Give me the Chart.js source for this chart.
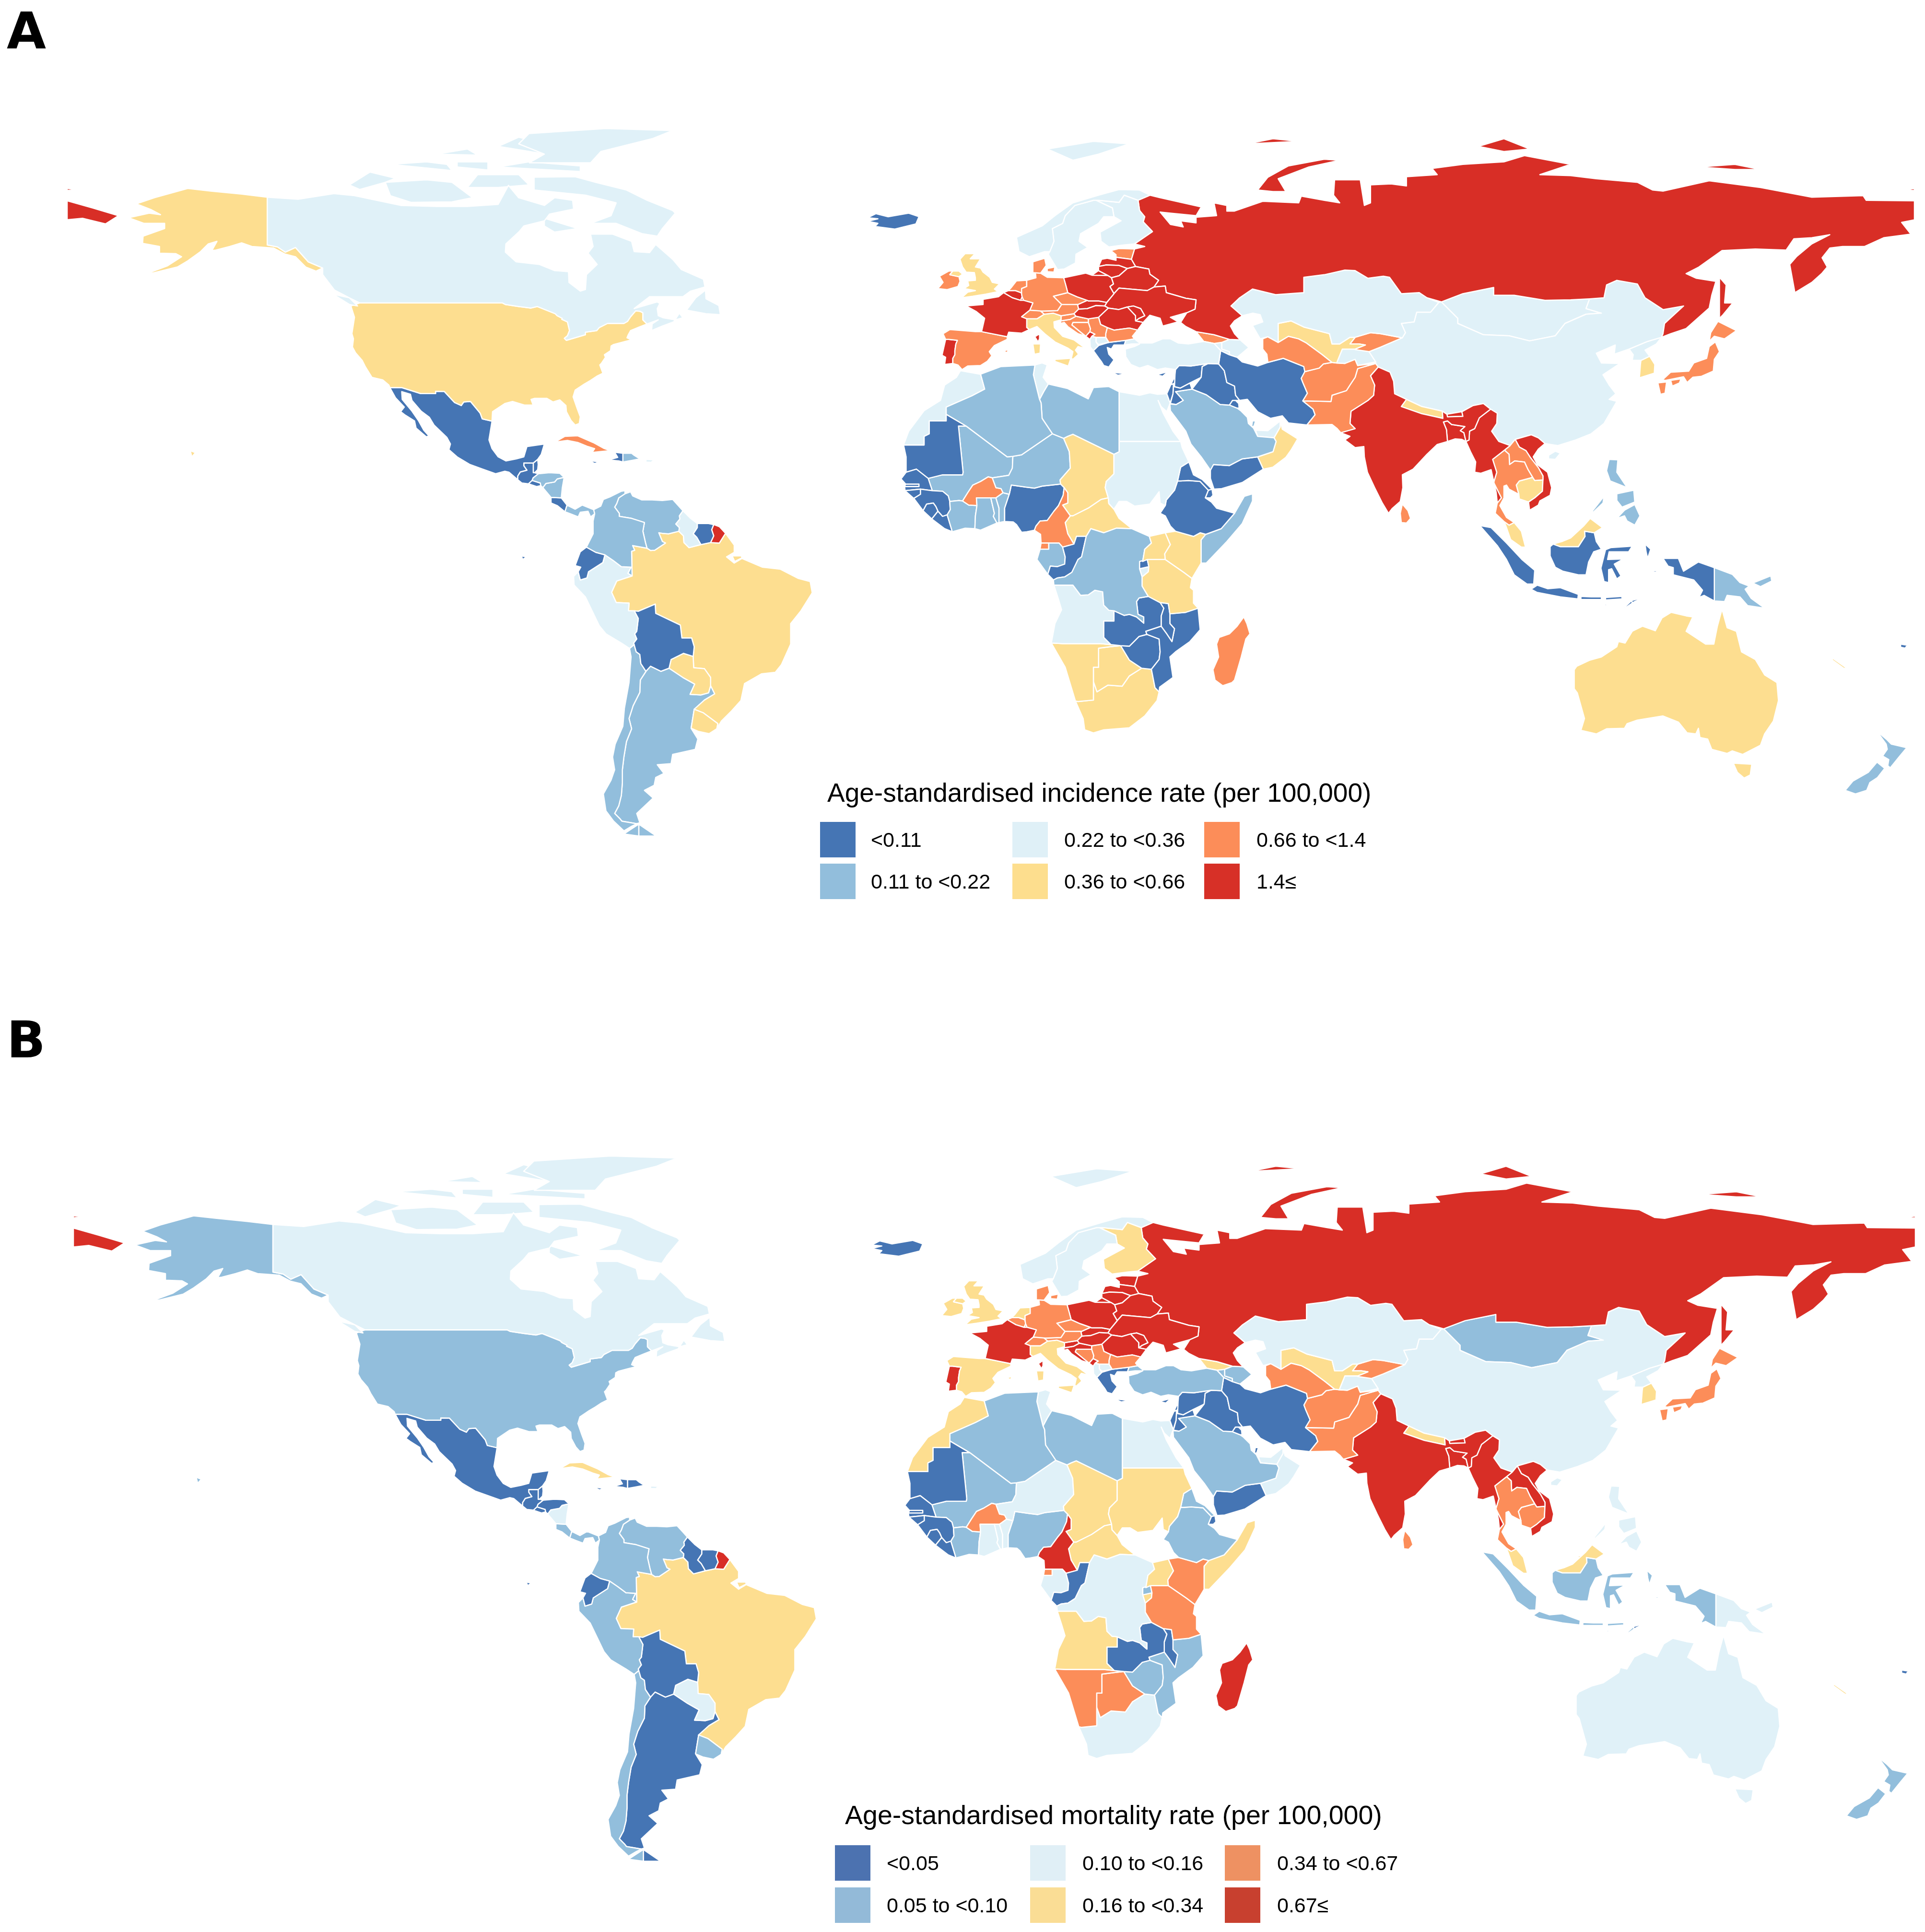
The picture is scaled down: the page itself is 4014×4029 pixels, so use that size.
<!DOCTYPE html>
<html>
<head>
<meta charset="utf-8">
<script src="https://cdn.jsdelivr.net/npm/chart.js@4"></script>
<style>
  html, body { margin: 0; background: #fff; }
  body { position: relative; width: 4014px; height: 4029px; overflow: hidden; font-family: "Liberation Sans", sans-serif; color: #000; }
  canvas { position: absolute; left: 0; }
  .panel { position: absolute; left: 14px; font: bold 106px "DejaVu Sans", sans-serif; line-height: 106px; }
  .title { position: absolute; font-size: 55px; line-height: 55px; white-space: nowrap; }
  #legendB .title { font-size: 55.5px; }
  .swatch { position: absolute; width: 74px; height: 74px; }
  .label { position: absolute; font-size: 43px; line-height: 74px; white-space: nowrap; }
</style>
</head>
<body>
<canvas id="mapA" width="4014" height="2069" style="top:0"></canvas>
<canvas id="mapB" width="4014" height="1960" style="top:2069px"></canvas>
<div class="panel" style="top:12px">A</div>
<div class="panel" style="top:2116px">B</div>
<div id="legendA"></div>
<div id="legendB"></div>
<script>
"use strict";
// legend text
const incidenceTitle = "Age-standardised incidence rate (per 100,000)";
const mortalityTitle = "Age-standardised mortality rate (per 100,000)";
const incidenceLabels = ["<0.11", "0.11 to <0.22", "0.22 to <0.36", "0.36 to <0.66", "0.66 to <1.4", "1.4≤"];
const mortalityLabels = ["<0.05", "0.05 to <0.10", "0.10 to <0.16", "0.16 to <0.34", "0.34 to <0.67", "0.67≤"];

const mapColors = ["#4575B4", "#92BEDC", "#E0F1F8", "#FDDE90", "#FC8D59", "#D82E26"];
const legendColorsA = ["#4575B4", "#92BEDC", "#DFF0F7", "#FDDE8E", "#FC8D59", "#D73027"];
const legendColorsB = ["#4C72B0", "#93BAD8", "#E0EFF6", "#FADD95", "#EE9162", "#C8402F"];

// incidence class of each country
const incidence0 = ["Mexico","Belize","Guatemala","ElSalvador","CostaRica","Haiti","Jamaica","Suriname","Ecuador","Bolivia","Iceland","Greece","Cyprus","Syria","Lebanon","Israel","Jordan","Iraq","Iran","Kuwait","Yemen","Mauritania","Senegal","Gambia","GuineaBissau","Guinea","SierraLeone","Liberia","Nigeria","Congo","Rwanda","Ethiopia","Eritrea","Djibouti","Zambia","Malawi","Mozambique","Zimbabwe","Lesotho","Eswatini","Indonesia","TimorLeste","Fiji"];
const incidence1 = ["Honduras","Nicaragua","Panama","DominicanRep","Colombia","Venezuela","Chile","Argentina","Algeria","Libya","Mali","Niger","IvoryCoast","Ghana","Togo","Benin","Gabon","DRCongo","Somalia","SaudiArabia","Qatar","Philippines","PapuaNewGuinea","NewZealand"];
const incidence2 = ["Canada","PuertoRico","Guyana","Peru","Norway","Sweden","Finland","Albania","NorthMacedonia","Turkey","Armenia","Azerbaijan","Kazakhstan","Tajikistan","China","Mongolia","NorthKorea","UAE","Egypt","Sudan","Tunisia","Morocco","Burundi","Angola"];
const incidence3 = ["USA","Brazil","Paraguay","Uruguay","UK","Italy","Uzbekistan","Oman","Nepal","Cambodia","Malaysia","Brunei","SouthKorea","Chad","CAR","Uganda","Kenya","Tanzania","Namibia","Botswana","SouthAfrica","Australia","NewCaledonia"];
const incidence4 = ["Cuba","Spain","Ireland","Germany","Netherlands","Denmark","Estonia","Czechia","Switzerland","Austria","Slovenia","Croatia","Bosnia","Serbia","Bulgaria","Georgia","Turkmenistan","Kyrgyzstan","Afghanistan","Pakistan","SriLanka","Thailand","Laos","Japan","BurkinaFaso","Cameroon","EqGuinea","Madagascar"];
const incidence5 = ["Russia","FrenchGuiana","France","Portugal","Belgium","Luxembourg","Poland","Lithuania","Latvia","Belarus","Ukraine","Slovakia","Hungary","Romania","Moldova","Montenegro","India","Bhutan","Bangladesh","Myanmar","Vietnam","Reunion"];

// mortality class of each country
const mortality0 = ["Mexico","Belize","Guatemala","ElSalvador","Honduras","Haiti","DominicanRep","Jamaica","Guyana","Suriname","Ecuador","Bolivia","Argentina","Iceland","Greece","Cyprus","Syria","Lebanon","Israel","Jordan","Iraq","Iran","Kuwait","Qatar","Yemen","Mauritania","Senegal","Gambia","GuineaBissau","Guinea","SierraLeone","Liberia","Congo","Djibouti","Zambia","Malawi","Lesotho","Eswatini","TimorLeste","Fiji"];
const mortality1 = ["USA","CostaRica","Panama","Colombia","Venezuela","Peru","Chile","Uruguay","Turkey","Armenia","Azerbaijan","SaudiArabia","Mongolia","Indonesia","Algeria","Libya","Mali","IvoryCoast","Nigeria","Rwanda","Ethiopia","Eritrea","Mozambique","Zimbabwe","NewZealand"];
const mortality2 = ["Canada","Nicaragua","PuertoRico","Paraguay","Norway","Sweden","Albania","NorthMacedonia","Kazakhstan","Tajikistan","China","NorthKorea","UAE","Oman","Philippines","PapuaNewGuinea","Australia","Egypt","Tunisia","Niger","Ghana","Togo","Benin","Gabon","DRCongo","SouthAfrica"];
const mortality3 = ["Cuba","Brazil","Finland","UK","Ireland","Netherlands","Spain","Italy","Georgia","Uzbekistan","Nepal","Malaysia","Brunei","SouthKorea","Morocco","Sudan","Chad","CAR","Burundi","Uganda","Somalia","Angola","NewCaledonia"];
const mortality4 = ["Denmark","Germany","Belgium","Luxembourg","Czechia","Switzerland","Austria","Bosnia","Serbia","Bulgaria","Turkmenistan","Kyrgyzstan","Afghanistan","Pakistan","SriLanka","Thailand","Cambodia","Japan","BurkinaFaso","EqGuinea","Kenya","Tanzania","Namibia","Botswana"];
const mortality5 = ["Russia","FrenchGuiana","France","Portugal","Poland","Estonia","Latvia","Lithuania","Belarus","Ukraine","Slovakia","Hungary","Romania","Moldova","Slovenia","Croatia","Montenegro","India","Bhutan","Bangladesh","Myanmar","Laos","Vietnam","Cameroon","Madagascar","Reunion"];

// country outlines as flat lon,lat lists, drawn in this order
const outlines = {
  Canada: [
    [-141,69.6,-135,69.2,-128,70.3,-124,69.9,-115,68,-108,67.8,-102,67.8,-96,68.2,-94,71.9,-92,69.5,-87,68,-85,69.5,-81.5,69,-81.3,67.3,-86,66.3,-87,65,-91,64,-92,62.8,-94.5,60.5,-94.6,58.9,-92.5,57,-88,56.5,-85,55.3,-82.3,55.1,-82.2,53,-80,51.3,-79,51.6,-78.8,54.5,-76.7,56.5,-78.5,58.7,-77.5,60,-78,62.4,-73.7,62.4,-70,61,-69.5,59,-66.5,58.8,-65.3,60.4,-62,57.5,-60.3,55.5,-56,53.6,-55.7,52.1,-58.5,51.3,-60,50.2,-66.5,50.2,-69.5,47.9,-65,49.2,-64.5,48.9,-65,47.9,-64.8,46.5,-63.8,46.1,-61.5,45.7,-60,46.1,-60.7,47,-61.8,45.3,-64,44.5,-66.1,43.6,-66,44.9,-64.8,45.7,-67,44.9,-67.8,45.7,-67.8,47.07,-68.3,47.35,-69.2,47.45,-70.2,46.3,-70.8,45.4,-71.5,45,-74.7,45,-76.3,44.2,-76.8,43.6,-79,43.3,-79,42.8,-82.7,41.7,-83.1,42.1,-82.5,42.6,-82.1,43.6,-82.5,45.3,-83.6,45.8,-83.5,46,-84.5,46.5,-84.9,46.9,-88.4,48.3,-89.6,48,-92,48.3,-94.6,48.7,-95.2,49,-123,49,-125,50,-127.9,51.5,-130.2,54.5,-130.2,55.8,-133,57,-135.5,59.8,-137.5,58.9,-139,59.9,-141,60.3],
    [-128.2,50.7,-125,50,-123.4,48.4,-125,48.7],
    [-59.3,47.6,-55.5,46.9,-52.7,46.7,-53,48.5,-55.5,49.8,-55.6,51.5,-57.5,50],
    [-61.5,66.5,-64,63.5,-65,62,-68,62.5,-73,64.5,-78,64.5,-74,66,-73,68.5,-79,70,-89,71,-89,73.5,-81,73.6,-77,72.5,-71,71,-67,69,-62,67],
    [-117,69.9,-113,68.6,-105,68.7,-101,69.5,-105,72.5,-110,73,-118,72.5],
    [-125,72,-123,71.1,-118,72.5,-116,73.3,-121,74.5],
    [-90,76.3,-78,76.3,-76,78.5,-66,81,-62,82.6,-75,83,-90,82,-92,80,-87,78],
    [-96,75.5,-80,74.6,-80,75.7,-90,76.5],
    [-96,79.5,-88,78.2,-87,80,-92,81.3],
    [-117,76,-105,74.8,-106,76,-110,76.5],
    [-102,71.5,-96,71.5,-90,72,-92,74,-100,74],
    [-87,65.5,-80.5,63.5,-85,62.8,-87,64],
    [-104,75.5,-98,74.9,-98,76.5,-104,76.5],
    [-108,78,-100,77.8,-102,79]
  ],
  USA: [
    [-124.7,48.4,-123,49,-95.2,49,-94.6,48.7,-92,48.3,-89.6,48,-88.4,48.3,-84.9,46.9,-84.5,46.5,-83.5,46,-83.6,45.8,-82.5,45.3,-82.1,43.6,-82.5,42.6,-83.1,42.1,-82.7,41.7,-79,42.8,-79,43.3,-76.8,43.6,-76.3,44.2,-74.7,45,-71.5,45,-70.8,45.4,-70.2,46.3,-69.2,47.45,-68.3,47.35,-67.8,47.07,-67.8,45.7,-67,44.9,-68.5,44.3,-70.2,43.6,-70.7,42.7,-70.9,42.2,-70,41.8,-71.2,41.5,-73.5,40.9,-74,40.6,-74.1,39.7,-75.3,38.9,-75.1,38.4,-75.9,37.2,-76.2,36.9,-75.6,35.3,-76.8,34.7,-78,33.9,-79.2,33.2,-81,32,-81.4,30.7,-80.6,28.4,-80,26.8,-80.2,25.5,-81,25.2,-81.8,26.1,-82.7,27.8,-82.8,29,-84,30.1,-85.3,29.7,-86.5,30.4,-88.9,30.4,-89.6,30.2,-89.2,29.1,-90.9,29.1,-93.2,29.8,-94.7,29.4,-97.1,27.8,-97.2,25.96,-99.1,26.4,-99.5,27.5,-101.4,29.8,-102.7,29.7,-103.2,29,-104.5,29.6,-106.5,31.75,-108.2,31.78,-108.2,31.33,-111.1,31.33,-114.8,32.5,-117.1,32.5,-117.3,33,-118.5,34,-120.6,34.5,-121.9,36.6,-122.5,37.8,-123.8,39.3,-124.4,40.4,-124.2,42,-124.5,43,-124,46.2],
    [-141,69.6,-141,60.3,-139,59.9,-137.5,58.9,-135.5,59.8,-133,57,-130.2,55.8,-131.5,55.2,-133.5,56,-135.5,58,-137.5,58.5,-139.8,59.7,-144,60,-146,60.7,-148.3,60,-151,59.3,-151.8,59.2,-150.8,61,-152.5,60.5,-154,59,-156.5,57.2,-158.5,56,-163,54.9,-164.8,54.6,-160.5,56.2,-157.7,58,-158.8,58.6,-162,58.7,-162,60,-165.3,60.6,-165.2,62,-161,63.5,-161,64.5,-165,64.5,-168,65.6,-164,66.5,-161.8,66.2,-163.7,67.2,-166.5,68.3,-163,69.5,-156.5,71.3,-152,70.8,-146,70.2],
    [-156,20.2,-155,19.8,-155.7,19]
  ],
  Mexico: [[-117.1,32.5,-114.8,32.5,-111.1,31.33,-108.2,31.33,-108.2,31.78,-106.5,31.75,-104.5,29.6,-103.2,29,-102.7,29.7,-101.4,29.8,-99.5,27.5,-99.1,26.4,-97.2,25.96,-97.8,22.3,-97.2,20.6,-96,19,-94.5,18.2,-92.5,18.6,-91,19,-90.4,21,-87,21.5,-87.6,19.5,-88.3,18.5,-89.15,17.8,-91,17.8,-91,17.25,-90.4,16.4,-91.7,16.05,-92.2,15.25,-92.2,14.55,-93.9,16,-94.7,16.2,-96.5,15.7,-99,16.6,-101.5,17.5,-104,19,-105.6,20.4,-105.3,21.5,-106,22.8,-108.5,25.2,-109.4,26.7,-111,27.9,-112.8,30,-113.1,31.2,-114.8,31.7,-114.7,30.2,-112.8,27.9,-111.5,26,-110.5,24.2,-109.5,23.1,-110,22.9,-112,24.6,-112.3,26,-114.2,27.2,-115,27.8,-114.3,28.7,-116,30.5]],
  Belize: [[-88.3,18.5,-88.2,17.5,-88.3,16.5,-88.9,15.9,-89.15,15.9,-89.15,17.8]],
  Guatemala: [[-91,17.8,-89.15,17.8,-89.15,15.9,-88.9,15.9,-88.2,15.7,-89.2,14.9,-89.4,14.4,-90.1,13.75,-91.4,13.9,-92.2,14.55,-92.2,15.25,-91.7,16.05,-90.4,16.4,-91,17.25]],
  Honduras: [[-88.2,15.7,-86,15.9,-84,15.8,-83.15,15,-84.5,14.7,-85,14.1,-86.7,13.8,-87.3,13,-87.7,13.4,-87.8,13.9,-89.4,14.4,-89.2,14.9]],
  ElSalvador: [[-90.1,13.75,-89.4,14.4,-87.8,13.9,-87.7,13.4,-88.5,13.2]],
  Nicaragua: [[-87.3,13,-86.7,13.8,-85,14.1,-84.5,14.7,-83.15,15,-83.5,13,-83.7,11,-85.7,11.1]],
  CostaRica: [[-85.7,11.1,-83.7,11,-82.6,9.6,-83,8.3,-84.5,9.5,-85.7,10]],
  Panama: [[-83,8.3,-82.6,9.6,-81,8.8,-79.6,9.6,-77.4,8.7,-77.2,7.9,-78,7.3,-78.5,8.4,-80,8.2,-80.4,7.3,-81.7,7.8]],
  Cuba: [[-84.9,21.9,-83,23,-80.5,23.1,-77.5,21.8,-75.5,20.7,-74.2,20.2,-77.7,19.85,-77.2,20.6,-78.5,21,-80.5,21.8,-82.5,22.2]],
  Haiti: [[-74.4,18.4,-72.5,18.2,-71.7,18,-71.7,19.7,-73.3,19.9,-72.7,18.9]],
  DominicanRep: [[-71.7,18,-70,18.3,-68.4,18.6,-69.5,19.3,-70,19.7,-71.7,19.7]],
  Jamaica: [[-78.3,18.3,-76.3,18,-77.2,17.7]],
  PuertoRico: [[-67.2,18.5,-65.6,18.4,-66.2,17.95,-67.2,18]],
  Colombia: [[-77.4,8.7,-76,9.4,-75.5,10.7,-74.2,11.2,-72,12.3,-71.3,12.4,-71.3,11.8,-72.5,11,-72.9,9.9,-73.3,9.2,-72.4,8,-72.4,7.4,-70,7,-67.5,6.2,-67.8,4.5,-67.3,2.3,-67,1.2,-69.8,1.7,-69.4,0.8,-70,0.6,-69.9,-4.2,-70.7,-3.7,-70.1,-2.5,-72,-2.4,-73.6,-1.2,-75.2,-0.1,-77,0.4,-78.8,1.4,-77.5,4,-77.5,6.5,-77.2,7.9]],
  Venezuela: [[-71.3,11.8,-70.2,12.2,-69.8,11.4,-68,10.6,-66,10.6,-64,10.5,-62,10.7,-60.9,9.5,-60,8.5,-60.7,7.5,-60.6,6.9,-61.4,5.9,-60.7,5.2,-60.8,4.5,-62.8,4,-64,4.1,-64.7,4.2,-64,2.5,-63.4,2.2,-65.5,0.8,-66.3,0.75,-67,1.2,-67.3,2.3,-67.8,4.5,-67.5,6.2,-70,7,-72.4,7.4,-72.4,8,-73.3,9.2,-72.9,9.9,-72.5,11]],
  Guyana: [[-60,8.5,-58.5,7,-57.2,6,-57.2,5.2,-58,4,-57.3,3.3,-56.5,1.9,-58.8,1.3,-59.8,2.3,-59.9,3.6,-60.8,4.5,-60.7,5.2,-61.4,5.9,-60.6,6.9,-60.7,7.5]],
  Suriname: [[-57.2,6,-55,6,-54,5.8,-54.4,4.8,-54,3.6,-54.6,2.3,-56.5,1.9,-57.3,3.3,-58,4,-57.2,5.2]],
  FrenchGuiana: [[-54,5.8,-52.9,5.4,-51.7,4.1,-52.9,2.2,-54.6,2.3,-54,3.6,-54.4,4.8]],
  Ecuador: [[-78.8,1.4,-77,0.4,-75.2,-0.1,-75.6,-1.6,-78.4,-3.4,-78.7,-4.6,-80,-5,-80.4,-3.4,-79.9,-2.5,-81,-2.2,-80,0.5],[-91.5,-0.3,-90.5,-0.5,-91.2,-1]],
  Peru: [[-75.2,-0.1,-73.6,-1.2,-72,-2.4,-70.1,-2.5,-70.7,-3.7,-69.9,-4.2,-72.9,-5.2,-73.9,-7.4,-73,-9.4,-70.5,-9.5,-70.6,-11,-69.5,-11,-68.7,-12.5,-69,-15,-69.4,-15.5,-69,-16.5,-69.6,-17.3,-69.5,-17.6,-70.4,-18.35,-72,-17.3,-75,-15.5,-76.3,-13.9,-77.7,-11,-79,-8.3,-81.2,-6,-81.3,-4.3,-80.4,-3.4,-80,-5,-78.7,-4.6,-78.4,-3.4,-75.6,-1.6]],
  Bolivia: [[-69.5,-11,-68.7,-11.1,-65.4,-9.7,-65.3,-11.5,-63,-12.6,-60.5,-13.8,-60.2,-16.3,-58.3,-16.3,-57.8,-18,-58,-19.9,-59.9,-19.3,-62.3,-20.5,-62.7,-22.2,-64.3,-22.8,-66.3,-21.8,-67.2,-22.8,-68.2,-21.3,-68.4,-19.5,-69.1,-19,-69.5,-17.6,-69.6,-17.3,-69,-16.5,-69.4,-15.5,-69,-15,-68.7,-12.5]],
  Paraguay: [[-62.7,-22.2,-62.3,-20.5,-59.9,-19.3,-58,-19.9,-57.9,-22.1,-55.8,-22.3,-54.6,-24,-54.6,-25.6,-55,-27,-56.5,-27.4,-58.6,-27.3,-57.7,-25.3,-60,-24]],
  Uruguay: [[-58.4,-33.9,-57.8,-30.2,-56,-30.9,-53.2,-33,-53.4,-34,-54.9,-34.95,-57,-34.5]],
  Brazil: [
    [-60.8,4.5,-59.9,3.6,-59.8,2.3,-58.8,1.3,-56.5,1.9,-54.6,2.3,-52.9,2.2,-51.7,4.1,-50,1.8,-50,0.4,-51.5,-0.5,-50,-1.7,-48.5,-0.8,-44.5,-2.5,-41,-2.9,-37.5,-4.7,-35.2,-5.3,-34.8,-7.5,-37,-11,-39,-13.5,-39,-17.5,-40.8,-21.5,-42,-23,-44.7,-23.3,-48,-25.2,-48.7,-28.5,-50.5,-30.5,-52.5,-32.5,-53.4,-34,-53.2,-33,-56,-30.9,-57.8,-30.2,-55.8,-28.4,-53.8,-27.2,-54.6,-25.6,-54.6,-24,-55.8,-22.3,-57.9,-22.1,-58,-19.9,-57.8,-18,-58.3,-16.3,-60.2,-16.3,-60.5,-13.8,-63,-12.6,-65.3,-11.5,-65.4,-9.7,-68.7,-11.1,-70.6,-11,-70.5,-9.5,-73,-9.4,-73.9,-7.4,-72.9,-5.2,-69.9,-4.2,-70,0.6,-69.4,0.8,-69.8,1.7,-67,1.2,-66.3,0.75,-65.5,0.8,-63.4,2.2,-64,2.5,-64.7,4.2,-64,4.1,-62.8,4],
    [-50.4,-0.3,-48.6,-0.3,-48.5,-0.7,-49.9,-1.4]
  ],
  Chile: [
    [-69.5,-17.6,-69.1,-19,-68.4,-19.5,-68.2,-21.3,-67.2,-22.8,-68.3,-24.5,-68.4,-26.9,-69.7,-29.5,-70.5,-32,-70,-34,-71,-36.5,-71.5,-39.5,-71.8,-42,-71.8,-44.5,-72,-47,-72.5,-49,-73.3,-50.5,-72.3,-51.5,-71.9,-52,-69,-52.5,-70,-53,-71.5,-53.9,-73.5,-52,-75,-50,-75.5,-46.7,-74,-44,-73.3,-42,-73.7,-39.5,-73.2,-37,-71.7,-33.5,-71.4,-30,-70.5,-25,-70.1,-20,-70.4,-18.35],
    [-68.6,-52.6,-68.6,-54.9,-71.5,-54.5,-70,-53.5]
  ],
  Argentina: [
    [-66.3,-21.8,-64.3,-22.8,-62.7,-22.2,-60,-24,-57.7,-25.3,-58.6,-27.3,-56.5,-27.4,-55,-27,-54.6,-25.6,-53.8,-27.2,-55.8,-28.4,-57.8,-30.2,-58.4,-33.9,-57.1,-36,-57.6,-38,-62,-39,-62.3,-40.8,-65,-41,-63.7,-42.7,-65.3,-43.5,-65.6,-45,-67.5,-46,-65.8,-47.5,-69,-50.5,-68.4,-52.3,-69,-52.5,-71.9,-52,-72.3,-51.5,-73.3,-50.5,-72.5,-49,-72,-47,-71.8,-44.5,-71.8,-42,-71.5,-39.5,-71,-36.5,-70,-34,-70.5,-32,-69.7,-29.5,-68.4,-26.9,-68.3,-24.5,-67.2,-22.8],
    [-68.6,-52.6,-65.2,-54.9,-68.6,-54.9]
  ],
  Iceland: [[-24,65.6,-22.4,66.4,-20,65.8,-16,66.5,-14,65.8,-14.6,64.4,-18.7,63.4,-22.6,63.9,-22,64.5,-24,64.9,-22,65.4]],
  Norway: [[5,61.8,5.5,59,7.5,58,10.5,59,11.5,59,12.3,61,12,63.5,14,64.5,14.5,66,16.4,68,20,69,21,69,25,68.6,26,70,28.7,69,31,70,29,71,25,71.1,21,70,16,68.5,12.5,66,10,64],[11,79,16,76.8,21,78,27,80,20,80.5]],
  Sweden: [[11.5,59,11.2,58.5,13,55.5,14.3,55.6,16.5,56.8,16.6,58.5,18.9,59.8,17.2,61,17.5,62.5,21,64.5,22,65.8,24,65.8,23.7,67.5,20.5,69,20,69,16.4,68,14.5,66,14,64.5,12,63.5,12.3,61]],
  Finland: [[24,65.8,25.4,65,21.3,62.8,21.5,61,23,59.9,26,60.3,28,60.5,31.5,62.9,29.7,64.8,30,65.8,29,67,28.7,69,26,70,25,68.6,21,69,20.5,69,23.7,67.5]],
  Denmark: [[8.2,54.9,9.7,54.8,10.8,56.3,10.5,57.7,8.2,57],[11,55.7,12.5,56,12.3,55,11,55.1]],
  UK: [[-5.7,50,-3.5,50.3,-1,50.7,1.4,51.2,0.7,51.7,1.7,52.7,0.3,53,-0.2,54,-1.5,55,-2,55.8,-3,56,-2,57.6,-4,57.6,-3.1,58.6,-5,58.6,-6,57.5,-5.5,56,-4.8,55,-3.2,54.9,-3,53.9,-3,53.4,-4.5,53.3,-4.3,52.4,-5.2,51.8,-3,51.4,-4.5,51.1],[-8,54.5,-6.2,54.1,-5.5,54.6,-6.2,55.2,-7.4,55.2]],
  Ireland: [[-10,54.2,-8.2,55.2,-7.4,55.2,-8,54.5,-6.2,54.1,-6,53.2,-6.4,52.2,-8.5,51.6,-10.3,51.8,-9.3,53]],
  France: [[-4.8,48.4,-1.5,48.7,-1.5,49.7,1.5,50.2,2.5,51,4.2,50,5.8,49.5,6.4,49.5,8.2,49,7.6,47.6,6,46.3,7,45.9,7,44.2,7.5,43.8,6,43.1,3.5,43.3,3.2,42.4,-1.8,43.4,-1.2,46,-2.8,47.3],[8.6,42.4,9.5,43,9.5,42,9.2,41.4]],
  Spain: [[-9.3,43,-8,43.8,-3,43.4,-1.8,43.4,3.2,42.4,3.2,41.9,0.7,40.7,-0.3,39.5,0.2,38.7,-0.7,37.6,-2,36.8,-4.5,36.7,-5.6,36,-6.4,36.9,-7.4,37.2,-7.4,38.2,-7,38.9,-7,39.7,-6.8,41,-6.5,41.7,-8.2,41.9,-8.8,41.9],[2.4,39.6,3.4,39.9,3.2,39.3]],
  Portugal: [[-8.8,41.9,-8.2,41.9,-6.5,41.7,-6.8,41,-7,39.7,-7,38.9,-7.4,38.2,-7.4,37.2,-9,37,-8.8,38.4,-9.5,38.8]],
  Germany: [[7,53.4,8.8,53.9,8.7,54.9,9.7,54.8,11,54,14.2,53.9,14.6,52.5,15,51,12.2,50.3,13.8,48.7,13,47.5,10,47.4,7.6,47.6,8.2,49,6.4,49.5,6.1,50.2,6,50.8,6,51.8,7,52.2]],
  Netherlands: [[7,53.4,5,53.3,4,52,3.4,51.4,4.8,51.4,5.9,51,6,50.8,6,51.8,7,52.2]],
  Belgium: [[3.4,51.4,4.8,51.4,5.9,51,6,50.8,6.1,50.2,5.8,49.5,4.2,50,2.5,51]],
  Luxembourg: [[5.8,49.5,6.1,50.2,6.4,49.5]],
  Switzerland: [[6,46.3,7.6,47.6,9.6,47.5,10.4,46.8,9,45.9,7,45.9]],
  Austria: [[9.6,47.5,10,47.4,13,47.5,13.8,48.7,16.9,48.7,17.1,47.8,16.2,46.9,13.7,46.5,12.2,47,10.4,46.8]],
  Italy: [[7,44.2,7,45.9,9,45.9,10.4,46.8,12.2,47,13.7,46.5,13.7,45.7,12.3,45.3,12.4,44.2,14,42.5,16.2,41.8,18.5,40.1,17,40.5,16.5,39.8,17.1,39,16,38,15.7,38.2,16,39.5,15,40.2,12.5,41.4,10.5,43,9,44.4,7.5,43.8],[12.5,38,15.6,38.2,15.1,36.7,12.5,37.6],[8.2,41,9.7,41,9.6,39.2,8.5,39]],
  Poland: [[14.2,53.9,18.5,54.8,19.7,54.4,22.8,54.35,23.5,53.9,23.9,52.7,23.2,52.2,24,50.8,22.6,49.1,21,49.4,19,49.4,18.8,49.5,16.8,50.2,15,51,14.6,52.5]],
  Czechia: [[12.2,50.3,15,51,16.8,50.2,18.8,49.5,17,48.7,16.9,48.7,14.7,48.6,13.8,48.7]],
  Slovakia: [[16.9,48.7,17,48.7,18.8,49.5,19,49.4,21,49.4,22.6,49.1,22.2,48.4,20.5,48.5,18.8,47.9,17.1,47.8]],
  Hungary: [[16.2,46.9,17.1,47.8,18.8,47.9,20.5,48.5,22.2,48.4,22.9,48,21,46.2,19,45.9,16.6,46.4]],
  Slovenia: [[13.7,46.5,16.2,46.9,16.6,46.4,15.5,45.8,13.6,45.5]],
  Croatia: [[13.6,45.5,15.5,45.8,16.6,46.4,19,45.9,19,45.2,16,45.2,15.8,44.7,17.5,43.3,18.5,42.5,17,43,15,44.4,14.3,45.2,13.6,45]],
  Bosnia: [[16,45.2,19,45.2,19.4,44,19.3,43.4,18.5,42.5,17.5,43.3,15.8,44.7]],
  Serbia: [[19,45.9,21,46.2,21.4,44.8,22.7,44.2,22.4,43,22.4,42.3,20.5,42.3,19.7,42.5,20.3,42.9,19.3,43.4,19.4,44,19,45.2]],
  Montenegro: [[18.5,42.5,19.3,43.4,20.3,42.9,19.7,42.5,19.3,41.9]],
  Albania: [[19.3,41.9,19.7,42.5,20.5,42.3,20.5,41.4,21,40.7,20,39.7,19.4,40.4]],
  NorthMacedonia: [[20.5,41.4,20.5,42.3,22.4,42.3,23,41.3,21,40.9]],
  Bulgaria: [[22.7,44.2,24,43.7,27,44.1,28.6,43.7,27.6,42.5,28,42,26.3,41.7,23,41.3,22.4,42.3,22.4,43]],
  Romania: [[21,46.2,22.9,48,24.9,47.7,26.6,48.2,28.2,46.5,28.2,45.5,29.7,45.2,28.6,43.7,27,44.1,24,43.7,22.7,44.2,21.4,44.8]],
  Moldova: [[26.6,48.2,27.8,48.4,29.2,47.9,30,46.5,28.9,46,28.2,45.5,28.2,46.5]],
  Ukraine: [[22.2,48.4,22.6,49.1,24,50.8,25,51.9,30.5,51.4,31.8,52.1,34,52.3,34.2,51,38,49.9,40,49.6,39.8,47.8,38.2,47.1,35,46.2,36.5,45.3,33.5,44.5,33,46,31,46.6,29.7,45.2,28.2,45.5,28.9,46,30,46.5,29.2,47.9,27.8,48.4,26.6,48.2,24.9,47.7,22.9,48]],
  Belarus: [[23.5,53.9,25,54.3,26.6,55.7,28.2,56.1,30.8,55.6,31,54.6,32.7,53.4,31.8,52.1,30.5,51.4,25,51.9,24,50.8,23.2,52.2,23.9,52.7]],
  Lithuania: [[21,55.3,21,56.1,22.5,56.4,25,56.3,26.6,55.7,25,54.3,23.5,53.9,22.8,54.35]],
  Latvia: [[21,56.1,21.6,57.5,22.7,57.7,24.4,57.3,24.4,57.9,27.4,57.5,28.2,56.1,26.6,55.7,25,56.3,22.5,56.4]],
  Estonia: [[23.4,59.2,25,59.6,28,59.5,27.4,57.5,24.4,57.9,24.4,58.4]],
  Greece: [[20,39.7,21,40.7,23,41.3,26.3,41.7,26,40.8,24,40.8,23.5,40,22.7,40.3,23,39,24,37.9,23,36.5,22,36.8,21.6,37.5,21,38.3],[23.5,35.5,26.3,35.2,24.8,34.9]],
  Cyprus: [[32.3,35,34.5,35.6,33.5,34.7]],
  Turkey: [[26.3,41.7,28,42,29,41.2,31.5,41.2,33.5,42,35,42,36.5,41.2,38.5,41,41.5,41.5,43.5,41.1,44.8,39.7,44.4,37.1,42.4,37.2,39,36.7,36.7,36.8,36,36,34,36.3,32.5,36,30.6,36.8,29,36.3,27.3,37,26.3,38.5,26.2,40,28,40.5,29,41,27.5,41,26,40.8]],
  Russia: [
    [40,43.4,38,44.4,37,45.2,38.2,47.1,39.8,47.8,40,49.6,38,49.9,34.2,51,34,52.3,31.8,52.1,32.7,53.4,31,54.6,30.8,55.6,28.2,56.1,27.4,57.5,28,59.5,30,60,28,60.5,31.5,62.9,29.7,64.8,30,65.8,29,67,28.7,69,31,70,33,69.5,41,67.7,40,66,35,66.5,33,66.7,35,64.3,37.5,63.8,37,65,40,64.6,40,65.7,44,66,43.5,68.5,46,68,46,66.9,47.5,66.9,53,68.8,60,68.5,60.5,69.8,65,69,68,68.5,66.8,70,67,73,72,73,72.8,68,74,68.5,74,72,78,72.2,81,71.8,81,73.6,87,74,86,75.2,92,76,100,76.5,104,77.7,113,76,107,74,113,73.8,118,73.2,126,72.5,129,71,131,70.8,140,72.8,150,71.5,160,69.6,170,69.9,170.6,69,180,68.9,180,65.2,177.5,64.7,179.3,62.4,174,61.7,170.3,60,166,60,163.5,59.7,162,57.8,163,56,162,54.8,160,53,156.7,51,155.7,56.5,157,58,160,60.5,163.5,62.3,160,61.7,156.5,61.5,155,59.3,149,59.5,142.5,59.2,138,56,135.5,54.7,137.5,53.8,141.3,53.2,140.5,50.5,140,48,135.5,44,132.5,43,130.7,42.3,131,43,131.3,45,135,48.4,131,47.7,127.5,50,126,52.7,122,53.4,120,52.5,119.5,50,116.7,49.8,113,49.6,108,49.5,102,50.5,98,50.5,98,52,92,50.8,87.8,49.2,85,50,83.5,51,80,50.8,77.7,54,76.5,54.2,73.5,53.8,71,55.3,69,55.4,65,54.5,61,54,61,51,55.5,50.6,51,51.7,48.5,50,46.8,48.4,49,46.5,47.5,45.5,46.7,44.5,47.5,43,48.6,41.8,46.5,41.9,43.5,42.8],
    [-180,65.2,-180,68.9,-175,67.5,-170,66,-172.5,64.4,-177,65.5],
    [-180,71.3,-178,71.1,-180,70.9],
    [178.5,71,180,71.3,180,70.9],
    [19.7,54.4,22.8,54.35,21,55.3],
    [52,71,55,70.7,57.5,70.7,56,73.2,62,75.5,68,76.8,65,77,58,75.7,54,73.5],
    [142,54,143.3,52.5,143,49,144.6,49,142.7,46.7,142,46,142,50],
    [95,79.5,100,78.5,105,79,100,81],
    [138,75.5,145,75,150,75,145,76],
    [50,80,60,80.5,55,81]
  ],
  Georgia: [[40,43.4,43.5,42.8,46.5,41.9,45,41.3,43.5,41.1,41.5,41.5]],
  Armenia: [[43.5,41.1,45,41.3,45,40,46.5,39.5,46.5,38.9,44.8,39.7]],
  Azerbaijan: [[45,41.3,46.5,41.9,48.6,41.8,50.3,40.3,49,39.2,48,38.4,46.5,38.9,46.5,39.5,45,40]],
  Kazakhstan: [[46.8,48.4,48.5,50,51,51.7,55.5,50.6,61,51,61,54,65,54.5,69,55.4,71,55.3,73.5,53.8,76.5,54.2,77.7,54,80,50.8,83.5,51,85,50,87.3,49.1,85.7,47.2,83,47.2,82.5,45.3,80,45,80.8,43.2,80.2,42.2,76,43,74,43.2,71,42.3,70,42.3,68,41,66.5,41,66,43,61,44.3,58.5,45.5,56,45,56,41.3,54,42.4,52.5,42,51,44.6,53,45.3,52.5,46.7,51,47,49,46.5]],
  Uzbekistan: [[56,45,58.5,45.5,61,44.3,66,43,66.5,41,68,41,70,42.3,71,42.3,70,41,71.7,41,73,40.8,71,40,68.5,40,67.4,37.3,66.5,37.4,64.5,39,61.5,41.2,60,42,58,42.5,56,41.3]],
  Turkmenistan: [[53,42,54,42.4,56,41.3,58,42.5,60,42,61.5,41.2,64.5,39,66.5,37.4,64.8,37.1,64,36.3,61.2,35.6,61,36.6,57,38.2,54,37.4,53.8,39,53,40]],
  Kyrgyzstan: [[71,42.3,74,43.2,76,43,80.2,42.2,76,40.4,73.7,39.5,71,39.9,71,40,73,40.8,71.7,41,70,41]],
  Tajikistan: [[68.5,40,71,40,73.7,39.5,75,37.5,71.5,36.8,71,38,69,37.2,67.4,37.3]],
  Afghanistan: [[61.2,35.6,64,36.3,64.8,37.1,66.5,37.4,67.4,37.3,69,37.2,71,38,71.5,36.8,75,37.2,71.5,36.2,71,34.5,70,33,69.3,31.9,66.5,31,66.3,29.8,60.8,29.9,61.7,31.4,60.8,33.5,60.5,34.3]],
  Pakistan: [[60.8,29.9,66.3,29.8,66.5,31,69.3,31.9,70,33,71,34.5,71.5,36.2,75,37.2,75.5,36.5,74,34.8,74.8,33,74.6,31,73.5,30,70.2,27.9,70,25.5,71,24.5,68.2,23.7,67.5,24.5,66.5,25.3,61.6,25.2,63.2,27.2,62.8,28.3]],
  India: [[74,34.8,75.5,36.5,77.8,35.5,78.5,33.7,78.7,31.3,81,30.2,80,28.8,84,27.4,88.1,26.5,88,27.9,88.9,27.3,89,26.8,92,26.9,91.8,27.8,94,29,96,29.4,97.4,28.3,95.2,26.6,94.3,24.5,93.3,24,93.2,22.3,92.6,22,92.2,23.7,91.5,24.1,92.4,24.9,89.8,25.3,89,26,88.2,25.8,88.8,24.3,89,22,87,21.4,85,19.5,82.3,16.6,80.2,15.5,80.3,13,79.8,10.3,78.2,8.9,77.5,8,76.3,10,74.8,13,73.4,16,72.8,19,72.7,21,71,20.8,69,22.3,70,23,68.2,23.7,71,24.5,70,25.5,70.2,27.9,73.5,30,74.6,31,74.8,33]],
  Nepal: [[80,28.8,81,30.2,84,28.8,88,27.9,88.1,26.5,84,27.4]],
  Bhutan: [[88.9,27.3,91.8,27.8,92,26.9,89,26.8]],
  Bangladesh: [[88.2,25.8,89,26,89.8,25.3,92.4,24.9,91.5,24.1,92.2,23.7,92.6,22,91.8,22.4,90.5,22.5,89,22,88.8,24.3]],
  SriLanka: [[79.8,8,80.2,9.8,81.3,8.5,81.8,7,81,6.1,80,6.2]],
  Myanmar: [[92.6,22,93.2,22.3,93.3,24,94.3,24.5,95.2,26.6,97.4,28.3,98.7,27.5,98.6,25.5,97.6,24,99,22,101.2,21.2,100.1,20.3,97.8,18.5,98.6,16,98,14,99.5,11,98.7,10,98.5,12,97.5,16.5,95.5,15.8,94.3,16,94.5,18,93.5,20]],
  Thailand: [[100.1,20.3,101,19.5,101.1,17.5,102.1,18.2,104,18,104.7,16.5,105.6,15,103,14.3,102.4,13.5,102.9,11.7,101,12.7,100.5,13.5,100,13.3,100,11,99.2,9.5,100.5,7.2,102,6.2,101,5.7,100,6.4,98.3,8,98.7,10,99.5,11,98,14,98.6,16,97.8,18.5]],
  Laos: [[101.2,21.2,102.2,22.4,103,20.9,104.3,20.2,105.2,18.8,106.7,16.9,107.6,15.3,107.6,14.5,106,14.4,105.6,15,104.7,16.5,104,18,102.1,18.2,101.1,17.5,101,19.5,100.1,20.3]],
  Vietnam: [[102.2,22.4,105.3,23.3,106.7,22.7,108,21.6,106.7,20.5,105.7,19,106.5,17.5,108.5,16,109.3,13,109,11.5,107,10.4,106.7,9.6,105,8.6,104.8,10.2,106,11,107.5,12.3,107.6,14.5,107.6,15.3,106.7,16.9,105.2,18.8,104.3,20.2,103,20.9]],
  Cambodia: [[102.4,13.5,103,14.3,105.6,15,106,14.4,107.6,14.5,107.5,12.3,106,11,104.8,10.2,103,10.8,102.9,11.7]],
  Malaysia: [[100,6.4,101,5.7,102,6.2,103.4,4.5,104.2,1.4,103.4,1.4,101.3,2.9,100.4,5.5],[109.6,2,111,1.5,114.5,1.5,115.8,3.5,115.7,4.5,117.6,4.2,119.2,5.2,116.8,7,115.5,5.5,113,3.2,111.3,2.5]],
  Brunei: [[114,4.7,115,5,115,4.2]],
  Indonesia: [
    [109,1.5,109.6,2,111,1.5,114.5,1.5,115.8,3.5,115.7,4.5,117.6,4.2,118,2.5,119,1,117.5,0.5,116.5,-1.5,116,-4,114.5,-4,111.5,-3.3,110,-2.5,109,-0.3],
    [95.3,5.6,97.5,5.2,100.5,2.2,103.5,-1,106,-3.1,105.8,-5.8,104.5,-5.8,102,-4,100.5,-1,98.7,1.7],
    [105.3,-6.8,106.5,-6,108.5,-6.7,111,-6.5,114.5,-7.8,114.4,-8.7,111,-8.3,106.4,-7.4],
    [119.8,0.9,120.8,1.3,125,1.6,124.3,0.5,120.5,0.5,120.2,-1,123.3,-0.9,121.5,-1.9,122.8,-4.2,122,-4.8,121,-2.8,120.4,-3,120.4,-5.5,119.5,-5.3,118.9,-2.7],
    [115,-8.2,117,-8.3,119,-8.3,119,-8.8,115,-8.8],
    [119.8,-8.4,123,-8.2,123,-8.7,119.8,-8.9],
    [123.5,-10.3,124.9,-9,125,-9.5,124,-10.2],
    [119,-9.5,120.8,-10,119.8,-10],
    [127.5,2,128.6,1,128,-0.8,127.7,0.5],
    [128,-3.2,130.5,-3.2,129.5,-3.5],
    [131,-0.8,134,-0.8,135,-3.3,137.9,-1.5,141,-2.6,141,-9.1,139,-8,138,-8.4,138.7,-7,137,-5,133,-4,133,-2.6,132,-2.3]
  ],
  TimorLeste: [[125,-9.5,124.9,-9,127.2,-8.4,125.5,-9.2]],
  PapuaNewGuinea: [[141,-2.6,144.5,-3.9,146,-5.5,147.8,-6.2,147,-6.8,148.2,-8.6,150.8,-10.5,147.5,-10,146,-8.3,143.5,-8,143,-9.2,141,-9.1],[148.5,-5.6,152,-4.2,152.2,-5.2,150,-6.3]],
  Philippines: [[120.5,18.5,122.2,18.4,122,16,124,13,122,13.8,120.7,14.3,120,16.3],[122,7,123.5,8.6,125.5,9.7,126.5,7.5,125.5,5.7,124,6.5,123.5,7.5],[122,11.8,125.3,12.5,125.5,10.2,123,9.2,122,10.5],[117.2,8.4,119.5,11.3,119.3,10,117.4,8.2]],
  China: [[73.7,39.5,76,40.4,80.2,42.2,80.8,43.2,80,45,82.5,45.3,83,47.2,85.7,47.2,87.3,49.1,87.8,49.2,91,46,91,45,96,42.8,101,42.6,105,41.6,110,42.6,111.9,45,116,46.8,119,47,116,47.9,116.7,49.8,119.5,50,120,52.5,122,53.4,126,52.7,127.5,50,131,47.7,135,48.4,131.3,45,131,43,130.7,42.3,128,41.5,124.4,40,121.5,39,121.7,40.8,118,39.2,119,37.3,122.6,37.2,119.3,35,120.5,33,121.8,31.3,120.5,30.2,122,29.8,119.5,25.5,117,23.5,114,22.3,110.5,21.2,108,21.6,106.7,22.7,105.3,23.3,102.2,22.4,101.2,21.2,99,22,97.6,24,98.6,25.5,98.7,27.5,97.4,28.3,96,29.4,94,29,91.8,27.8,88.9,27.3,88,27.9,84,28.8,81,30.2,78.7,31.3,78.5,33.7,77.8,35.5,75.5,36.5,75,37.2,75,37.5],[108.7,19.3,110,20.1,111,19.7,110,18.5,108.7,18.6]],
  Mongolia: [[87.8,49.2,92,50.8,98,52,98,50.5,102,50.5,108,49.5,113,49.6,116.7,49.8,116,47.9,119,47,116,46.8,111.9,45,110,42.6,105,41.6,101,42.6,96,42.8,91,45,91,46]],
  NorthKorea: [[124.4,40,128,41.5,130.7,42.3,129.7,41,127.5,39.8,128.4,38.6,126.7,37.8,125,37.8,125.2,38.9]],
  SouthKorea: [[126.7,37.8,128.4,38.6,129.4,37,129.3,35.3,126.4,34.4,126.6,37]],
  Japan: [[130.9,34,132.5,35.5,136,35.7,137,37.3,139.5,38.2,140,40.5,141.2,41.4,142,39.5,141,38,140.8,35.7,138.5,34.7,136.8,34.5,135.7,33.5,135,34.6,131.5,33.9],[140,41.5,140.3,43.2,141.7,45.4,145.3,43.6,143,42,141,42.5],[130,33.4,131.7,33.6,131.4,31.4,130.5,31.2],[132.5,33.9,134.5,34.2,134.2,33.4,132.8,32.8]],
  Iran: [[44.8,39.7,46.5,38.9,48,38.4,49,37.5,52,36.7,54,37.4,57,38.2,61,36.6,61.2,35.6,60.5,34.3,60.8,33.5,61.7,31.4,60.8,29.9,62.8,28.3,63.2,27.2,61.6,25.2,58,25.6,56.8,27,54.5,26.5,52,27.8,50,30.2,48.5,30,47.7,31,47.5,32.8,46,33.5,45.5,35.8,44.4,37.1]],
  Iraq: [[42.4,37.2,44.4,37.1,45.5,35.8,46,33.5,47.5,32.8,47.7,31,48.5,30,47.7,30,47.1,30,46.5,29.1,44.7,29.2,42,31.1,39.2,32.2,41,34.5,41.2,36.6]],
  Kuwait: [[46.5,29.1,47.1,30,47.7,30,48.3,29.4,48.4,28.5,48,28.5]],
  Syria: [[36.7,36.8,39,36.7,42.4,37.2,41.2,36.6,41,34.5,38.8,33.4,36.9,32.4,35.8,32.7,35.9,35,36,36]],
  Lebanon: [[35.1,33.1,35.7,33.3,36.5,34.4,36,34.7,35.5,34]],
  Israel: [[34.3,31.3,34.95,29.5,35.5,31.3,35.6,33.2,35.1,33.1]],
  Jordan: [[35,29.4,36.1,29.2,37.5,30,36,31.7,39.2,32.2,38.8,33.4,36.9,32.4,35.6,32.7,35.5,31.3]],
  SaudiArabia: [[36.1,29.2,37.5,30,36,31.7,39.2,32.2,42,31.1,44.7,29.2,46.5,29.1,48,28.5,48.7,28,50,26.7,50.2,25.5,51.2,24.6,52,23,55.2,22.7,55.6,22,55,20,52,19,49,18.6,46.5,17.3,43.4,17.5,42.8,16.4,41,19,39,21.5,38,24,36.5,26,35,28,34.9,29.3]],
  Yemen: [[42.8,16.4,43.4,17.5,46.5,17.3,49,18.6,52,19,53.1,16.6,49,14,45,12.8,43.5,12.7,42.8,14.8],[53.3,12.6,54.5,12.5,53.8,12.3]],
  Oman: [[52,19,55,20,55.6,22,55.2,22.7,56.4,24.8,56.4,26.3,56.8,24.4,59.8,22.5,58.5,20.3,57.5,18.9,55,17,53.1,16.6]],
  UAE: [[51.6,24.2,54,24.1,56.4,26,56.4,24.8,55.2,22.7,52,23]],
  Qatar: [[50.8,24.8,51.3,25,51.6,26,51,26]],
  Morocco: [[-5.9,35.8,-2,35.1,-1.2,32.2,-3.7,30.9,-8.7,28.7,-8.7,27.3,-8.7,26,-12,26,-12,23.5,-13,23,-13,21.3,-17,21.3,-16,24,-13,28,-9.8,30,-9,33,-6.7,34.5]],
  Algeria: [[-2,35.1,2,36.6,8.6,36.9,8.3,35,9.5,30.2,9.8,29.5,10,26.5,12,23.5,6,19.4,4.3,19.1,3.2,19,-4.8,25,-8.7,27.3,-8.7,28.7,-3.7,30.9,-1.2,32.2]],
  Tunisia: [[8.6,36.9,10,37.3,11,36.9,10.2,34.5,11.2,33.2,10.3,31.7,9.5,30.2,8.3,35]],
  Libya: [[11.2,33.2,15,32.3,19,30.3,20,32.5,23,32.7,25,31.7,25,20,24,19.5,16,23.4,15,23,14.2,22.6,12,23.5,10,26.5,9.8,29.5,9.5,30.2,10.3,31.7]],
  Egypt: [[25,31.7,29,31,31,31.5,32.5,31.2,34.3,31.3,34.95,29.5,34.3,27.8,33.2,28.8,32.6,30,33.6,27.5,35.5,24,37,22,25,22]],
  Sudan: [[24,19.5,25,20,25,22,37,22,37.3,20.8,38.6,18,37,17,36.4,14.3,35.8,12.5,34.2,10.6,34,9.5,33,10,32.8,12.2,31,9.8,28,9.4,26.5,10.3,25,10.3,24,8.8,23,9.9,22.9,11,22.3,13,22.5,14.2,24,15.7]],
  Eritrea: [[38.6,18,39.5,15.5,41.2,14.6,43.1,12.7,42.4,12.5,40.8,14.2,38.5,14.4,37,14.3,36.4,14.3,37,17]],
  Ethiopia: [[36.4,14.3,37,14.3,38.5,14.4,40.8,14.2,42.4,12.5,41.8,11,43,10.2,44,9,47.5,8,44.9,5,41.9,3.9,40.8,4.2,39.5,3.5,36,4.5,35,5.5,34,7.5,33,8,34,9.5,34.2,10.6,35.8,12.5]],
  Djibouti: [[42.4,12.5,43.1,12.7,43.3,11.5,42.8,11,41.8,11]],
  Somalia: [[49.4,11.3,51,11.8,51,10.4,49,6,46,2.5,42,-1.7,41,-1.7,41,2.8,41.9,3.9,44.9,5,47.5,8]],
  Kenya: [[34,4.2,36,4.5,39.5,3.5,40.8,4.2,41.9,3.9,41,2.8,41,-1.7,39.2,-4.7,37.6,-3.5,34,-1,33.9,0.1,35,1.9]],
  Uganda: [[30.9,3.5,34,4.2,35,1.9,33.9,0.1,34,-1,30.5,-1,29.6,-1.4,30,1,31.3,2.2]],
  Tanzania: [[30.5,-1,34,-1,37.6,-3.5,39.2,-4.7,38.9,-6.5,39.5,-7,39.5,-9.5,40.4,-10.5,38,-11.3,34.9,-11.6,34.6,-9.6,33,-9.4,30.7,-8.2,29.5,-6.2,29.5,-4.4,30.7,-3.4,30.8,-2.4]],
  Rwanda: [[29,-1.4,30.5,-1,30.8,-2.4,29,-2.8]],
  Burundi: [[29,-2.8,30.8,-2.4,30.7,-3.4,29.5,-4.4]],
  DRCongo: [[12.3,-6,12.2,-5,13,-4.6,14.4,-4.4,15.8,-3.5,17,-1,17.7,-0.5,18.6,3.5,19.5,5,22,4.2,24.5,5.1,27.5,5,30.9,3.5,31.3,2.2,30,1,29.6,-1.4,29,-1.4,29,-2.8,29.5,-4.4,29.5,-6.2,30.7,-8.2,28.9,-8.5,28.4,-9.2,28.7,-11.7,29.8,-12.2,29.8,-13.4,28.4,-12.2,27,-11.7,26,-11.9,24,-11,23,-10.9,22,-9.9,21.8,-7.3,20.3,-7,19,-7.9,17.5,-8,16,-6]],
  Congo: [[11.1,-3.9,12.2,-5,13,-4.6,14.4,-4.4,15.8,-3.5,17,-1,17.7,-0.5,18.6,3.5,16.7,3.5,16.2,2,14,1.4,14.5,-0.5,14.4,-1.9,13,-2.4,11.6,-2.3]],
  Gabon: [[9,-1,9.6,1,11.3,1,11.3,2.2,13.3,2.2,14,1.4,14.5,-0.5,14.4,-1.9,13,-2.4,11.6,-2.3,11.1,-3.9]],
  EqGuinea: [[9.6,1,9.8,2.2,11.3,2.2,11.3,1]],
  Cameroon: [[8.5,4.7,9.7,3.9,9.8,2.2,11.3,2.2,13.3,2.2,14,1.4,16.2,2,15,4,14.5,6.2,15.5,7.5,14,9.6,15,10,15,12,14.3,13,14.1,11.5,13.2,9.5,12.3,8.4,11,6.6,9.6,6.5,8.8,5.5]],
  CAR: [[14.5,6.2,15,4,16.2,2,16.7,3.5,18.6,3.5,19.5,5,22,4.2,24.5,5.1,27.5,5,25,7,24,8.8,23,9.9,22.9,11,21.5,10.7,19,9,16,7.5,15.5,7.5]],
  Chad: [[14.2,22.6,15,23,16,23.4,24,19.5,24,15.7,22.5,14.2,22.3,13,22.9,11,21.5,10.7,19,9,16,7.5,15.5,7.5,14,9.6,15,10,15,12,14.3,13,13.6,13.7,13.5,14.5,15.5,16.8,15.3,20]],
  Niger: [[3.6,11.7,2.4,12,2,12.8,1,13,0.3,14.9,3.5,15.4,4.2,16.8,4.3,19.1,6,19.4,12,23.5,14.2,22.6,15.3,20,15.5,16.8,13.5,14.5,13.6,13.7,10,13.3,8.5,12.9,6.8,13.1,4,13.5]],
  Nigeria: [[2.7,6.4,2.7,9,3.6,11.7,4,13.5,6.8,13.1,8.5,12.9,10,13.3,13.6,13.7,14.3,13,14.1,11.5,13.2,9.5,12.3,8.4,11,6.6,9.6,6.5,8.8,5.5,8.5,4.7,7,4.4,6,4.3,5,5.8,4.4,6.3]],
  Benin: [[1.6,6.2,2.7,6.4,2.7,9,3.6,11.7,2.4,12,1,11,1.6,9]],
  Togo: [[1.2,6.1,1.6,6.2,1.6,9,1,11,0,11,0.7,8,0.5,7.4]],
  Ghana: [[-3.1,5,-2,4.7,1.2,6.1,0.5,7.4,0.7,8,0,11,-2.8,11,-2.7,9.5,-3,7.5]],
  BurkinaFaso: [[-5.5,10.4,-4.3,9.6,-2.7,9.5,-2.8,11,0,11,1,11,2.4,12,2,12.8,1,13,0.3,14.9,-0.5,15.1,-2,14.2,-3.5,13.5,-4.5,12]],
  IvoryCoast: [[-7.5,4.4,-5,5.1,-3.1,5,-3,7.5,-2.7,9.5,-4.3,9.6,-5.5,10.4,-6.2,10.5,-8,10.3,-7.9,8.7,-8.5,7.7]],
  Liberia: [[-11.5,6.9,-9,5,-7.5,4.4,-8.5,7.7,-9.4,7.4,-10.3,8.4]],
  SierraLeone: [[-13.2,8.5,-11.5,6.9,-10.3,8.4,-10.7,9.3,-11.2,10,-12.5,9.8]],
  Guinea: [[-15,10.9,-13.2,8.5,-12.5,9.8,-11.2,10,-10.7,9.3,-10.3,8.4,-9.4,7.4,-8.5,7.7,-7.9,8.7,-8,10.3,-8.3,11.4,-9.4,12.3,-11.4,12.4,-13.7,12.7,-13.7,11.7]],
  GuineaBissau: [[-16.7,12.4,-13.7,12.7,-13.7,11.7,-15,10.9]],
  Senegal: [[-17.5,14.7,-16.5,16,-14.5,16.6,-12.2,14.8,-11.4,12.4,-13.7,12.7,-16.7,12.4,-16.8,13.2,-14,13.2,-14,13.7,-16.6,13.7]],
  Gambia: [[-16.8,13.2,-14,13.2,-14,13.7,-16.6,13.7]],
  Mauritania: [[-17,21.3,-13,21.3,-13,23,-12,23.5,-12,26,-8.7,26,-8.7,27.3,-4.8,25,-6.3,25,-5.4,16,-5.5,15.5,-9.4,15.5,-12.2,14.8,-14.5,16.6,-16.5,16,-16.5,19]],
  Mali: [[-12.2,14.8,-9.4,15.5,-5.5,15.5,-5.4,16,-6.3,25,-4.8,25,3.2,19,4.3,19.1,4.2,16.8,3.5,15.4,0.3,14.9,-0.5,15.1,-2,14.2,-3.5,13.5,-4.5,12,-5.5,10.4,-6.2,10.5,-8,10.3,-8.3,11.4,-9.4,12.3,-11.4,12.4]],
  Angola: [[12.3,-6,16,-6,17.5,-8,19,-7.9,20.3,-7,21.8,-7.3,22,-9.9,23,-10.9,24,-11,24,-13,22,-13,22,-16.2,23.4,-17.6,21.4,-17.4,18.5,-17.4,14,-17.4,11.8,-17.3,12.5,-13.5,13.8,-10.8,13.2,-8.8],[11.8,-4.6,12.8,-4.4,12.8,-5.2,12.2,-5.8]],
  Zambia: [[22,-13,24,-13,24,-11,26,-11.9,27,-11.7,28.4,-12.2,29.8,-13.4,29.8,-12.2,28.7,-11.7,28.4,-9.2,28.9,-8.5,30.7,-8.2,33,-9.4,33.7,-10.5,33.2,-12,33.2,-14,30.2,-15,30.4,-15.6,28.9,-16,27,-17.9,25.3,-17.8,23.4,-17.6,22,-16.2]],
  Malawi: [[33,-9.4,34.6,-9.6,34.9,-11.6,34.9,-13.5,35.8,-14.5,35.3,-17,34.3,-15.5,33.2,-14,33.2,-12,33.7,-10.5]],
  Mozambique: [[34.9,-11.6,38,-11.3,40.4,-10.5,40.8,-14.7,38.8,-17,36,-19,34.9,-20,35.5,-24,32.9,-25.9,32.8,-26.8,32,-26,31.3,-22.4,32.8,-20.5,33,-19,32.8,-16.5,30.4,-15.6,30.2,-15,33.2,-14,34.3,-15.5,35.3,-17,35.8,-14.5,34.9,-13.5]],
  Zimbabwe: [[25.3,-17.8,27,-17.9,28.9,-16,30.4,-15.6,32.8,-16.5,33,-19,32.8,-20.5,31.3,-22.4,29.4,-22.2,27,-20.6]],
  Namibia: [[11.8,-17.3,14,-17.4,18.5,-17.4,21.4,-17.4,23.4,-17.6,25.3,-17.8,23.4,-18,21,-18.3,21,-22,20,-22,20,-28.4,17,-28.7,16.5,-28.6,14.5,-22]],
  Botswana: [[21,-18.3,23.4,-18,25.3,-17.8,27,-20.6,29.4,-22.2,27,-23.7,25.6,-25.7,22.8,-25.5,20.7,-26.8,20,-24.8,20,-22,21,-22]],
  SouthAfrica: [[16.5,-28.6,17,-28.7,20,-28.4,20,-24.8,20.7,-26.8,22.8,-25.5,25.6,-25.7,27,-23.7,29.4,-22.2,31.3,-22.4,32,-26,32.8,-26.8,32.4,-28.5,30,-31.5,27,-33.8,22,-34.2,20,-34.8,18.3,-34.2,18,-32]],
  Lesotho: [[27,-29.6,28.5,-28.6,29.4,-29.5,28,-30.6]],
  Eswatini: [[30.8,-26,32,-26,32,-27.3,31,-27.2]],
  Madagascar: [[49.3,-12.2,49.9,-13.5,50.5,-15.5,49.7,-16.5,48.8,-20,47.5,-24.5,47,-25,45.2,-25.6,43.7,-24.5,43.3,-22.5,44.4,-20,44,-17.5,44.5,-16.2,46.5,-15.5,48,-14]],
  Reunion: [[55.3,-21,55.8,-21,55.7,-21.3]],
  Australia: [[113.7,-22.5,114.2,-21.8,116.8,-20.6,119,-20,122,-18,122.3,-17,123.6,-17.3,125,-15,127,-14,129.5,-14.9,130.8,-12.4,132.6,-11.3,135.5,-12,136.8,-12.2,135.5,-15,139.3,-17.5,140.9,-17.5,141.6,-14,142.5,-10.7,143.5,-14.3,145.3,-15,146.3,-19,149,-20.5,150.8,-23.5,153.2,-25,153.5,-28.5,152.5,-32.5,150.8,-35,150,-37.2,146.5,-39,144.5,-38.3,143.5,-38.8,140.5,-38,139.7,-36,138.2,-35.7,137.9,-33.9,137.4,-35,135.7,-34.8,134,-32.7,131,-31.5,126,-32.3,124,-33,123.5,-33.9,120,-34,118,-35,115,-34.3,115.7,-32,114.3,-27,113.7,-26.2],[144.7,-40.7,148.3,-40.9,148,-43,146.8,-43.6,145.5,-42.5]],
  NewZealand: [[172.7,-34.5,174.5,-36,175.5,-37,178.5,-37.7,177,-39.5,175.3,-41.6,174.8,-41.2,175,-40,173.8,-39.3,174.7,-38,174.5,-37],[172.7,-40.5,174.2,-41.7,172.8,-43.5,171.3,-44.5,170.7,-46,168.5,-46.7,166.5,-46,168,-44.2,171,-42.5]],
  NewCaledonia: [[164,-20.2,167,-22.3,166.2,-22.2,164,-20.6]],
  Fiji: [[177.3,-17.5,178.6,-17.7,178.2,-18.3,177.3,-18.1]]
};
// small water body left white inside Kazakhstan
const aralDot = [63,46.3,64.1,46.3,64.1,45.3,63,45.3];

const incidenceGroups = [incidence0, incidence1, incidence2, incidence3, incidence4, incidence5];
const mortalityGroups = [mortality0, mortality1, mortality2, mortality3, mortality4, mortality5];

function ringToPoints(ring) {
  const points = [];
  for (let i = 0; i < ring.length; i += 2) {
    points.push({ x: ring[i], y: ring[i + 1] });
  }
  points.push(points[0]);
  return points;
}

function ringDataset(ring, color) {
  return {
    data: ringToPoints(ring),
    showLine: true,
    fill: "shape",
    backgroundColor: color,
    borderColor: "#ffffff",
    borderWidth: 2.5,
    borderJoinStyle: "round",
    pointRadius: 0,
    tension: 0,
  };
}

function buildDatasets(groups) {
  const datasets = [];
  Object.keys(outlines).forEach((name) => {
    const cls = groups.findIndex((group) => group.includes(name));
    if (cls < 0) return;
    outlines[name].forEach((ring) => datasets.push(ringDataset(ring, mapColors[cls])));
  });
  datasets.push(ringDataset(aralDot, "#ffffff"));
  return datasets;
}

function drawMap(id, groups, padding) {
  new Chart(document.getElementById(id), {
    type: "scatter",
    data: { datasets: buildDatasets(groups) },
    options: {
      responsive: false,
      animation: false,
      devicePixelRatio: 1,
      layout: { padding: padding },
      plugins: { legend: { display: false }, tooltip: { enabled: false } },
      scales: {
        x: { type: "linear", min: -180, max: 180, display: false },
        y: { type: "linear", min: -60, max: 90, display: false },
      },
    },
  });
}

drawMap("mapA", incidenceGroups, { left: 140, right: 22, top: 193, bottom: 271 });
drawMap("mapB", mortalityGroups, { left: 153, right: 20, top: 267, bottom: 93 });

function addDiv(parent, cls, text, left, top, color) {
  const el = document.createElement("div");
  el.className = cls;
  el.style.left = left + "px";
  el.style.top = top + "px";
  if (text) el.textContent = text;
  if (color) el.style.background = color;
  parent.appendChild(el);
}

function drawLegend(id, title, labels, colors, titleLeft, titleTop, swatchX, textX, rowY) {
  const box = document.getElementById(id);
  addDiv(box, "title", title, titleLeft, titleTop);
  labels.forEach((label, i) => {
    const col = Math.floor(i / 2);
    const row = i % 2;
    addDiv(box, "swatch", "", swatchX[col], rowY[row], colors[i]);
    addDiv(box, "label", label, textX[col], rowY[row]);
  });
}

drawLegend("legendA", incidenceTitle, incidenceLabels, legendColorsA, 1725, 1626, [1710, 2111, 2511], [1816, 2219, 2620], [1714, 1801]);
drawLegend("legendB", mortalityTitle, mortalityLabels, legendColorsB, 1762, 3758, [1741, 2148, 2554], [1849, 2257, 2663], [3848, 3936]);
</script>
</body>
</html>
